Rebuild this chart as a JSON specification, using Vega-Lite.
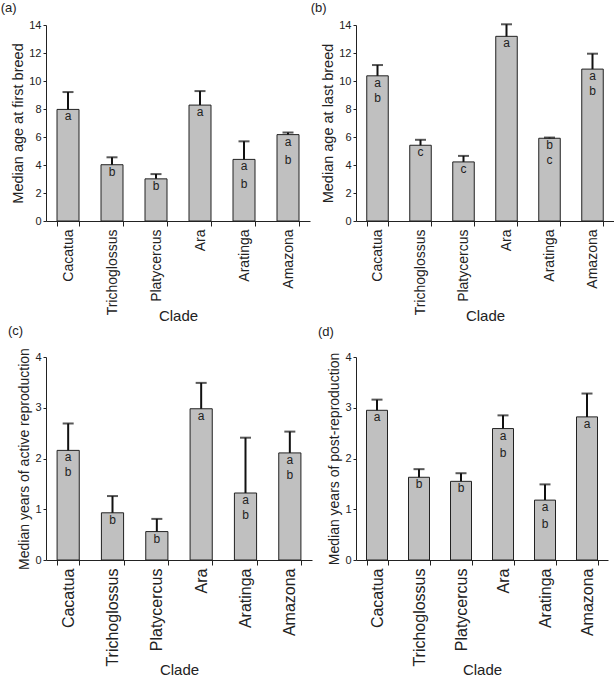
{
  "$schema": "https://vega.github.io/schema/vega-lite/v6.json",
  "padding": {"left": 0, "top": 2, "right": 0, "bottom": 0},
  "spacing": 0,
  "config": {
    "view": {"stroke": null},
    "font": "Liberation Sans",
    "axis": {"grid": false, "domainColor": "#222", "tickColor": "#222", "labelColor": "#222", "titleColor": "#222", "labelFont": "Liberation Sans", "titleFont": "Liberation Sans", "titleFontWeight": "normal"},
    "axisX": {"labelAngle": -90, "tickBand": "extent", "labelFontSize": 14, "titleFontSize": 15, "tickSize": 5, "labelPadding": 3, "titlePadding": -6},
    "axisY": {"labelFontSize": 11, "titleFontSize": 14, "tickSize": 3, "labelPadding": 2, "titlePadding": 3},
    "title": {"anchor": "start", "frame": "bounds", "fontSize": 13, "fontWeight": "normal", "font": "Liberation Sans", "color": "#222", "offset": 0}
  },
  "vconcat": [
    {
      "spacing": 0,
      "hconcat": [
        {
          "title": {"text": "(a)", "dx": -10},
          "width": 264, "height": 196,
          "data": {"values": [
            {"clade": "Cacatua", "value": 7.97, "err": 9.21, "letters": "a"},
            {"clade": "Trichoglossus", "value": 4.02, "err": 4.55, "letters": "b"},
            {"clade": "Platycercus", "value": 3.01, "err": 3.35, "letters": "b"},
            {"clade": "Ara", "value": 8.28, "err": 9.28, "letters": "a"},
            {"clade": "Aratinga", "value": 4.40, "err": 5.69, "letters": "a\nb"},
            {"clade": "Amazona", "value": 6.17, "err": 6.32, "letters": "a\nb"}
          ]},
          "encoding": {"x": {"field": "clade", "type": "nominal", "sort": null, "title": "Clade", "scale": {"paddingInner": 0.5, "paddingOuter": 0.25}}},
          "layer": [
            {"mark": {"type": "bar", "fill": "#c0c0c0", "stroke": "#222", "strokeWidth": 1},
             "encoding": {"y": {"field": "value", "type": "quantitative", "title": "Median age at first breed", "scale": {"domain": [0, 14], "nice": false}, "axis": {"values": [0, 2, 4, 6, 8, 10, 12, 14], "titleFontSize": 14.5}}}},
            {"mark": {"type": "rule", "strokeWidth": 2, "color": "#111"},
             "encoding": {"y": {"field": "value", "type": "quantitative", "title": "Median age at first breed", "axis": {"values": [0, 2, 4, 6, 8, 10, 12, 14], "titleFontSize": 14.5}}, "y2": {"field": "err"}}},
            {"mark": {"type": "tick", "thickness": 2, "size": 11, "color": "#111"},
             "encoding": {"y": {"field": "err", "type": "quantitative", "title": "Median age at first breed", "axis": {"values": [0, 2, 4, 6, 8, 10, 12, 14], "titleFontSize": 14.5}}}},
            {"mark": {"type": "text", "baseline": "top", "dy": 2, "fontSize": 12, "lineBreak": "\n", "lineHeight": 18, "color": "#222"},
             "encoding": {"y": {"field": "value", "type": "quantitative", "title": "Median age at first breed", "axis": {"values": [0, 2, 4, 6, 8, 10, 12, 14], "titleFontSize": 14.5}}, "text": {"field": "letters"}}}
          ]
        },
        {
          "title": {"text": "(b)", "dx": -10},
          "width": 258, "height": 196,
          "data": {"values": [
            {"clade": "Cacatua", "value": 10.37, "err": 11.14, "letters": "a\nb"},
            {"clade": "Trichoglossus", "value": 5.41, "err": 5.80, "letters": "c"},
            {"clade": "Platycercus", "value": 4.22, "err": 4.65, "letters": "c"},
            {"clade": "Ara", "value": 13.19, "err": 14.05, "letters": "a"},
            {"clade": "Aratinga", "value": 5.91, "err": 5.96, "letters": "b\nc"},
            {"clade": "Amazona", "value": 10.85, "err": 11.95, "letters": "a\nb"}
          ]},
          "encoding": {"x": {"field": "clade", "type": "nominal", "sort": null, "title": "Clade", "scale": {"paddingInner": 0.5, "paddingOuter": 0.25}}},
          "layer": [
            {"mark": {"type": "bar", "fill": "#c0c0c0", "stroke": "#222", "strokeWidth": 1},
             "encoding": {"y": {"field": "value", "type": "quantitative", "title": "Median age at last breed", "scale": {"domain": [0, 14], "nice": false}, "axis": {"values": [0, 2, 4, 6, 8, 10, 12, 14], "titleFontSize": 14.5}}}},
            {"mark": {"type": "rule", "strokeWidth": 2, "color": "#111"},
             "encoding": {"y": {"field": "value", "type": "quantitative", "title": "Median age at last breed", "axis": {"values": [0, 2, 4, 6, 8, 10, 12, 14], "titleFontSize": 14.5}}, "y2": {"field": "err"}}},
            {"mark": {"type": "tick", "thickness": 2, "size": 11, "color": "#111"},
             "encoding": {"y": {"field": "err", "type": "quantitative", "title": "Median age at last breed", "axis": {"values": [0, 2, 4, 6, 8, 10, 12, 14], "titleFontSize": 14.5}}}},
            {"mark": {"type": "text", "baseline": "top", "dy": 2, "fontSize": 12, "lineBreak": "\n", "lineHeight": 15, "color": "#222"},
             "encoding": {"y": {"field": "value", "type": "quantitative", "title": "Median age at last breed", "axis": {"values": [0, 2, 4, 6, 8, 10, 12, 14], "titleFontSize": 14.5}}, "text": {"field": "letters"}}}
          ]
        }
      ]
    },
    {
      "spacing": 5,
      "hconcat": [
        {
          "title": {"text": "(c)", "dx": -10, "offset": 10},
          "width": 266, "height": 203,
          "data": {"values": [
            {"clade": "Cacatua", "value": 2.16, "err": 2.69, "letters": "a\nb"},
            {"clade": "Trichoglossus", "value": 0.93, "err": 1.26, "letters": "b"},
            {"clade": "Platycercus", "value": 0.56, "err": 0.81, "letters": "b"},
            {"clade": "Ara", "value": 2.98, "err": 3.49, "letters": "a"},
            {"clade": "Aratinga", "value": 1.32, "err": 2.41, "letters": "a\nb"},
            {"clade": "Amazona", "value": 2.11, "err": 2.53, "letters": "a\nb"}
          ]},
          "encoding": {"x": {"field": "clade", "type": "nominal", "sort": null, "title": "Clade", "scale": {"paddingInner": 0.5, "paddingOuter": 0.25}, "axis": {"labelFontSize": 16, "titlePadding": -4}}},
          "layer": [
            {"mark": {"type": "bar", "fill": "#c0c0c0", "stroke": "#222", "strokeWidth": 1},
             "encoding": {"y": {"field": "value", "type": "quantitative", "title": "Median years of active reproduction", "scale": {"domain": [0, 4], "nice": false}, "axis": {"values": [0, 1, 2, 3, 4], "format": "d"}}}},
            {"mark": {"type": "rule", "strokeWidth": 2, "color": "#111"},
             "encoding": {"y": {"field": "value", "type": "quantitative", "title": "Median years of active reproduction", "axis": {"values": [0, 1, 2, 3, 4], "format": "d"}}, "y2": {"field": "err"}}},
            {"mark": {"type": "tick", "thickness": 2, "size": 11, "color": "#111"},
             "encoding": {"y": {"field": "err", "type": "quantitative", "title": "Median years of active reproduction", "axis": {"values": [0, 1, 2, 3, 4], "format": "d"}}}},
            {"mark": {"type": "text", "baseline": "top", "dy": 2, "fontSize": 12, "lineBreak": "\n", "lineHeight": 15, "color": "#222"},
             "encoding": {"y": {"field": "value", "type": "quantitative", "title": "Median years of active reproduction", "axis": {"values": [0, 1, 2, 3, 4], "format": "d"}}, "text": {"field": "letters"}}}
          ]
        },
        {
          "title": {"text": "(d)", "dx": -10, "offset": 12},
          "width": 252, "height": 203,
          "data": {"values": [
            {"clade": "Cacatua", "value": 2.95, "err": 3.16, "letters": "a"},
            {"clade": "Trichoglossus", "value": 1.63, "err": 1.79, "letters": "b"},
            {"clade": "Platycercus", "value": 1.55, "err": 1.71, "letters": "b"},
            {"clade": "Ara", "value": 2.59, "err": 2.85, "letters": "a\nb"},
            {"clade": "Aratinga", "value": 1.18, "err": 1.49, "letters": "a\nb"},
            {"clade": "Amazona", "value": 2.82, "err": 3.28, "letters": "a"}
          ]},
          "encoding": {"x": {"field": "clade", "type": "nominal", "sort": null, "title": "Clade", "scale": {"paddingInner": 0.5, "paddingOuter": 0.25}, "axis": {"labelFontSize": 16, "titlePadding": -4}}},
          "layer": [
            {"mark": {"type": "bar", "fill": "#c0c0c0", "stroke": "#222", "strokeWidth": 1},
             "encoding": {"y": {"field": "value", "type": "quantitative", "title": "Median years of post-reproduction", "scale": {"domain": [0, 4], "nice": false}, "axis": {"values": [0, 1, 2, 3, 4], "format": "d"}}}},
            {"mark": {"type": "rule", "strokeWidth": 2, "color": "#111"},
             "encoding": {"y": {"field": "value", "type": "quantitative", "title": "Median years of post-reproduction", "axis": {"values": [0, 1, 2, 3, 4], "format": "d"}}, "y2": {"field": "err"}}},
            {"mark": {"type": "tick", "thickness": 2, "size": 11, "color": "#111"},
             "encoding": {"y": {"field": "err", "type": "quantitative", "title": "Median years of post-reproduction", "axis": {"values": [0, 1, 2, 3, 4], "format": "d"}}}},
            {"mark": {"type": "text", "baseline": "top", "dy": 2, "fontSize": 12, "lineBreak": "\n", "lineHeight": 17, "color": "#222"},
             "encoding": {"y": {"field": "value", "type": "quantitative", "title": "Median years of post-reproduction", "axis": {"values": [0, 1, 2, 3, 4], "format": "d"}}, "text": {"field": "letters"}}}
          ]
        }
      ]
    }
  ]
}
